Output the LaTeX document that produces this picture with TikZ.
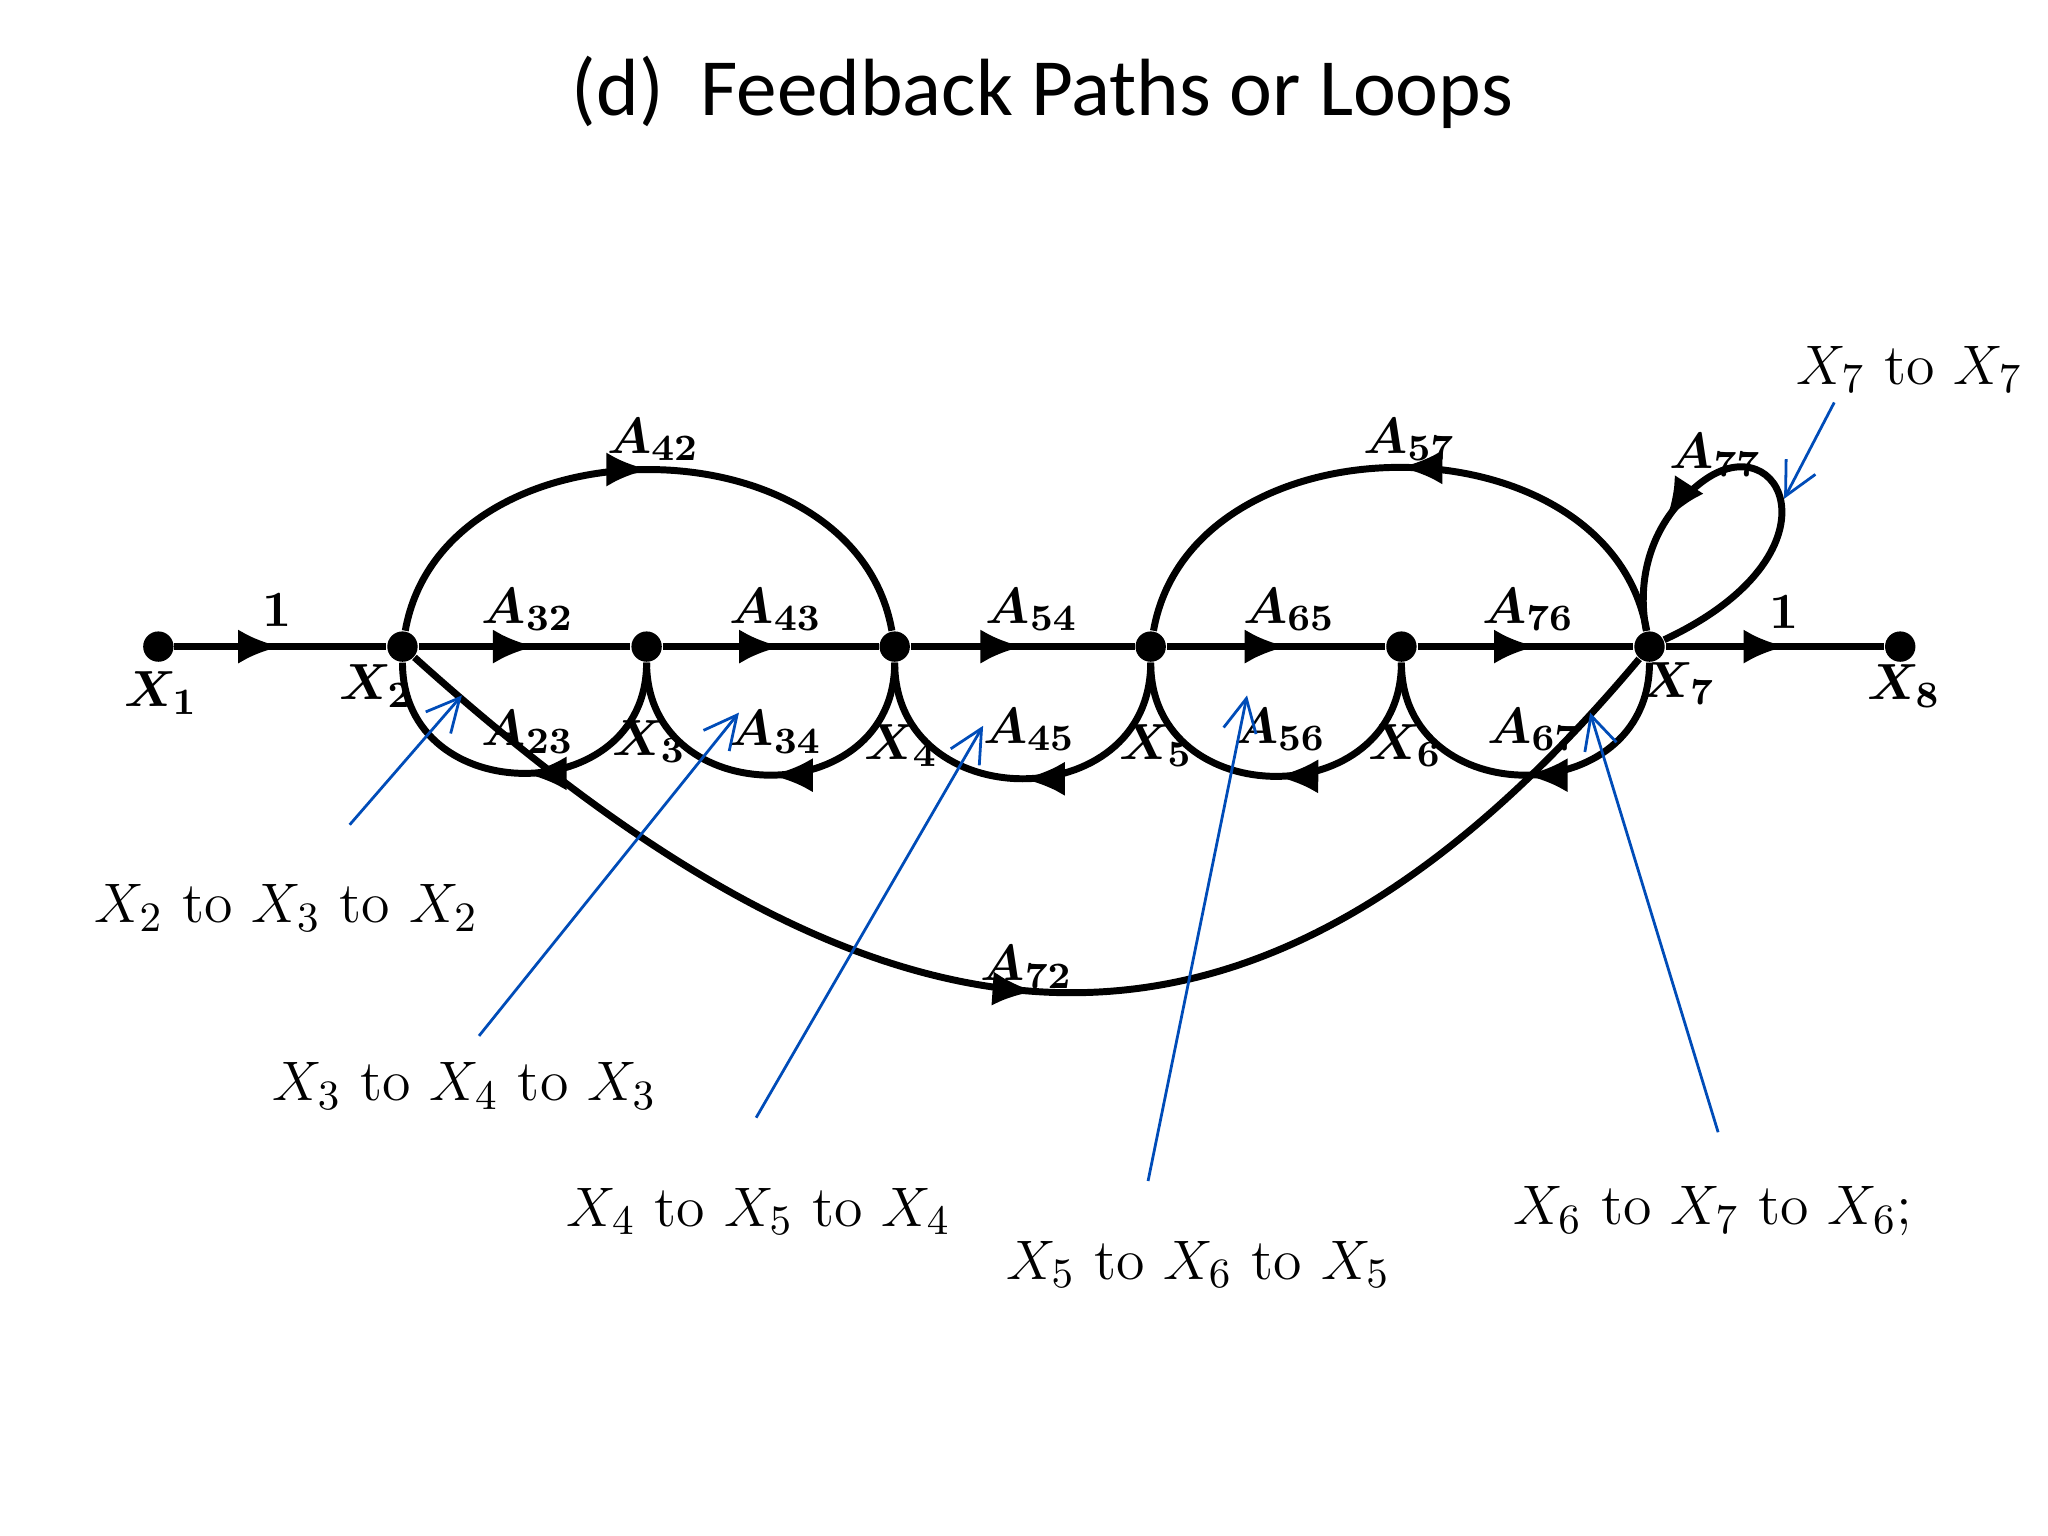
\documentclass[tikz,border=0pt]{standalone}
\usepackage{fontspec}
\newfontfamily\titlefont{Carlito}
\usetikzlibrary{arrows.meta,decorations.markings}
\begin{document}
\begin{tikzpicture}[x=0.01cm,y=-0.01cm,
  sig/.style={line width=1.5pt,postaction={decorate},decoration={markings,mark=at position #1 with {\arrow{Latex[length=3.2mm,width=2.6mm]}}}},
  sig/.default=0.5,
  dot/.style={circle,fill,inner sep=0pt,minimum size=2.3mm},
  gl/.style={font=\fontsize{11}{13}\selectfont\boldmath},
  ann/.style={font=\fontsize{12.5}{15}\selectfont},
  bl/.style={draw=blue!60!black!70!cyan,line width=0.6pt,-{Straight Barb[length=2.5mm,width=2.5mm]}}]
\useasboundingbox (0,0) rectangle (1552,1164);
\node[font=\titlefont\fontsize{17.5}{21}\selectfont] (title) at (790,70) {(d)\ \ Feedback Paths or Loops};
\foreach \n/\x in {1/120,2/305,3/490,4/678,5/872,6/1062,7/1250,8/1440}
  \node[dot] (X\n) at (\x,490) {};
\draw[sig=0.5] (X1) -- (X2);
\draw[sig=0.55] (X2) -- (X3);
\draw[sig=0.55] (X3) -- (X4);
\draw[sig=0.5] (X4) -- (X5);
\draw[sig=0.55] (X5) -- (X6);
\draw[sig=0.55] (X6) -- (X7);
\draw[sig=0.55] (X7) -- (X8);
\foreach \a/\b in {3/2,4/3,5/4,6/5,7/6}
  \draw[sig] (X\a) to[out=-90,in=-90,looseness=1.55] (X\b);
\draw[sig] (X2) to[out=80,in=100,looseness=1.15] (X4);
\draw[sig] (X7) to[out=100,in=80,looseness=1.15] (X5);
\draw[sig=0.5] (X2) to[out=-42,in=-130,looseness=1.3] (X7);
\draw[sig=0.75] (X7) .. controls (1400,420) and (1350,320) .. (1290,365) .. controls (1250,395) and (1240,440) .. (X7);
\foreach \t/\x/\y in {1/210/462,A_{32}/400/462,A_{43}/588/462,A_{54}/782/462,A_{65}/977/462,A_{76}/1158/462,1/1352/464,
  A_{23}/400/555,A_{34}/588/555,A_{45}/780/553,A_{56}/970/553,A_{67}/1162/553,A_{42}/495/333,A_{57}/1068/333,A_{77}/1300/345,A_{72}/778/733,
  X_1/122/525,X_2/285/520,X_3/492/562,X_4/683/565,X_5/876/565,X_6/1065/565,X_7/1272/518,X_8/1443/520}
  \node[gl] at (\x,\y) {$\t$};
\node[ann] (l1) at (217,688) {$X_2$ to $X_3$ to $X_2$};
\node[ann] (l2) at (352,823) {$X_3$ to $X_4$ to $X_3$};
\node[ann] (l3) at (575,918) {$X_4$ to $X_5$ to $X_4$};
\node[ann] (l4) at (908,958) {$X_5$ to $X_6$ to $X_5$};
\node[ann] (l5) at (1298,918) {$X_6$ to $X_7$ to $X_6$;};
\node[ann] (l6) at (1447,280) {$X_7$ to $X_7$};
\coordinate (a1) at (265,625); \coordinate (b1) at (350,527);
\coordinate (a2) at (363,785); \coordinate (b2) at (560,540);
\coordinate (a3) at (573,847); \coordinate (b3) at (745,550);
\coordinate (a4) at (870,895); \coordinate (b4) at (945,527);
\coordinate (a5) at (1302,858); \coordinate (b5) at (1205,540);
\coordinate (a6) at (1390,305); \coordinate (b6) at (1352,378);
\foreach \i in {1,...,6} \draw[bl] (a\i) -- (b\i);
\end{tikzpicture}
\end{document}
